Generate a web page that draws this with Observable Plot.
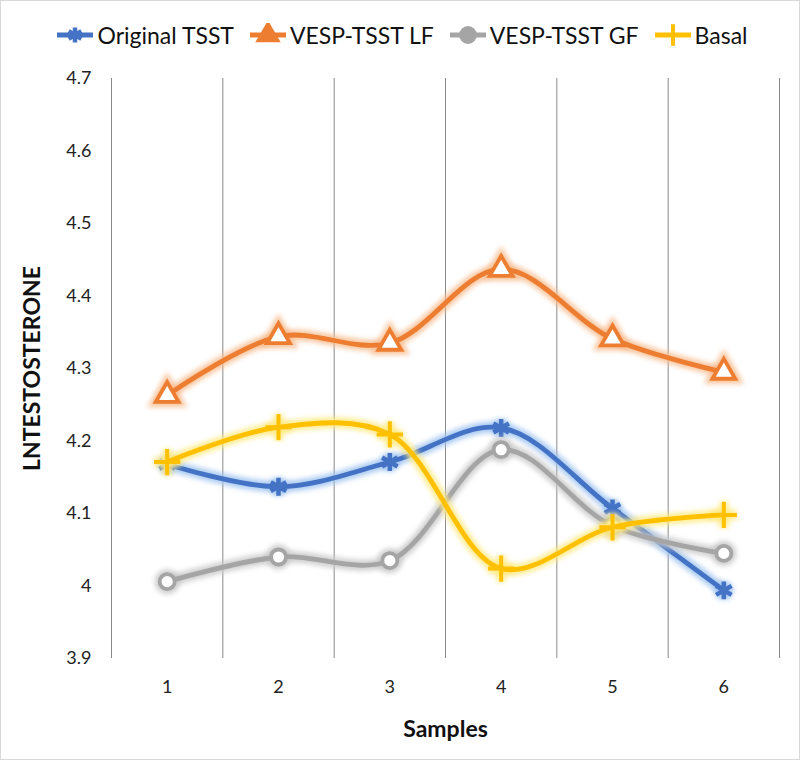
<!DOCTYPE html>
<html>
<head>
<meta charset="utf-8">
<script src="https://cdn.jsdelivr.net/npm/d3@7"></script>
<script src="https://cdn.jsdelivr.net/npm/@observablehq/plot@0.6"></script>
<style>
  html, body { margin: 0; padding: 0; background: #fff; }
  #frame { position: relative; width: 798px; height: 758px; border: 1px solid #d9d9d9; overflow: hidden; font-family: Lato, "Open Sans", sans-serif; }
  #legend { height: 61px; display: flex; justify-content: center; align-items: center; gap: 15px; padding-left: 4px; box-sizing: border-box; padding-top: 6px; }
  .item { display: flex; align-items: center; font-size: 23px; color: #111; }
  .item svg { margin-right: 3px; }
  g[aria-description="glow"] { filter: blur(2.5px); }
</style>
</head>
<body>
<div id="frame">
  <div id="legend"></div>
  <div id="chart"></div>
</div>
<script>
// ---- data ----
const samples = [1, 2, 3, 4, 5, 6];
const seriesNames = ["Original TSST", "VESP-TSST LF", "VESP-TSST GF", "Basal"];
const originalTSST = [4.168, 4.137, 4.171, 4.218, 4.107, 3.994];
const vespTsstLF   = [4.263, 4.344, 4.335, 4.437, 4.341, 4.295];
const vespTsstGF   = [4.006, 4.040, 4.035, 4.188, 4.083, 4.045];
const basal        = [4.171, 4.219, 4.209, 4.024, 4.081, 4.098];
const yTicks = [3.9, 4.0, 4.1, 4.2, 4.3, 4.4, 4.5, 4.6, 4.7];

// ---- styles ----
const seriesValues = [originalTSST, vespTsstLF, vespTsstGF, basal];
const colors = ["#4472C4", "#ED7D31", "#A5A5A5", "#FFC000"];
const glowColors = ["#9cc2f0", "#f8bc8e", "#c8c8c8", "#ffea80"];
const symbols = ["asterisk", "triangle", "circle", "plus"];
const fills = ["none", "white", "white", "none"];
const radii = [8.5, 8.5, 7.5, 8.5];
const widths = [4.5, 3.8, 3.8, 4];

const rows = seriesNames.flatMap((name, i) =>
  samples.map((s, j) => ({series: name, idx: i, sample: s, value: seriesValues[i][j]})));
const gridX = [...samples.map(s => s - 0.5), samples[samples.length - 1] + 0.5];

const marks = [Plot.ruleX(gridX, {stroke: "#8a8a8a", strokeWidth: 1})];
seriesNames.forEach((name, i) => {
  const d = rows.filter(r => r.idx === i);
  marks.push(Plot.line(d, {x: "sample", y: "value", stroke: glowColors[i], strokeWidth: 11, strokeOpacity: 0.85, curve: "catmull-rom", ariaDescription: "glow"}));
  marks.push(Plot.dot(d, {x: "sample", y: "value", symbol: symbols[i], r: radii[i], stroke: glowColors[i], fill: glowColors[i], strokeWidth: 10, strokeOpacity: 0.85, ariaDescription: "glow"}));
  marks.push(Plot.line(d, {x: "sample", y: "value", stroke: colors[i], strokeWidth: 4.8, curve: "catmull-rom"}));
  marks.push(Plot.dot(d, {x: "sample", y: "value", symbol: symbols[i], r: radii[i], stroke: colors[i], fill: fills[i], strokeWidth: widths[i]}));
});

const chart = Plot.plot({
  width: 798,
  height: 697,
  marginLeft: 110,
  marginRight: 20,
  marginTop: 16,
  marginBottom: 101,
  style: {fontFamily: "Lato, 'Open Sans', sans-serif", fontSize: "18px", color: "#222", background: "white"},
  x: {domain: [0.5, 6.5], ticks: samples, tickSize: 0, tickPadding: 22, tickFormat: d => String(d), label: "Samples", labelArrow: "none", labelAnchor: "center", labelOffset: 78},
  y: {domain: [3.9, 4.7], ticks: yTicks, tickSize: 0, tickPadding: 20, tickFormat: d => String(+d.toFixed(1)), label: "LNTESTOSTERONE", labelArrow: "none", labelAnchor: "center", labelOffset: 88},
  marks
});
document.getElementById("chart").appendChild(chart);

const svg = d3.select(chart);
svg.selectAll('g[aria-label="x-axis tick label"], g[aria-label="y-axis tick label"]')
  .style("font-size", "18px").style("fill", "#222");
svg.selectAll('g[aria-label="x-axis label"], g[aria-label="y-axis label"]')
  .style("font-weight", "bold").style("font-size", "23px").style("fill", "#111");

// legend
const legend = d3.select("#legend");
const symMap = {asterisk: d3.symbolAsterisk, triangle: d3.symbolTriangle, circle: d3.symbolCircle, plus: d3.symbolPlus};
seriesNames.forEach((name, i) => {
  const it = legend.append("div").attr("class", "item");
  const s = it.append("svg").attr("width", 38).attr("height", 24);
  s.append("line").attr("x1", 1).attr("x2", 37).attr("y1", 12).attr("y2", 12).attr("stroke", colors[i]).attr("stroke-width", 5);
  s.append("path").attr("transform", "translate(19,12)")
    .attr("d", d3.symbol(symMap[symbols[i]], Math.PI * 7 * 7)())
    .attr("stroke", colors[i]).attr("stroke-width", widths[i]).attr("fill", fills[i] === "none" ? "none" : colors[i]);
  it.append("span").text(name);
});
</script>
</body>
</html>
